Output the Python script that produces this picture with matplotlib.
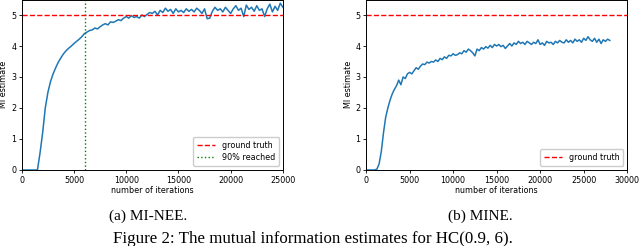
import numpy as np
import matplotlib
matplotlib.use("Agg")
import matplotlib.pyplot as plt

STEP = 250
nee_vals = [0, 0, 0, 0, 0, 0, 0, 0.55, 1.2, 2.0,
            2.5, 2.85, 3.1, 3.3, 3.48, 3.62, 3.75, 3.85, 3.93, 4.0,
            4.08, 4.15, 4.22, 4.3, 4.4, 4.45, 4.5, 4.52, 4.58, 4.55,
            4.62, 4.68, 4.72, 4.68, 4.78, 4.76, 4.8, 4.85, 4.82, 4.9,
            4.95, 4.9, 4.98, 4.92, 4.95, 4.9, 5.0, 4.95, 5.02, 5.08,
            5.05, 5.12, 5.0, 5.15, 5.08, 5.22, 5.12, 5.18, 5.05, 5.2,
            5.1, 5.15, 5.08, 5.2, 5.12, 5.18, 5.1, 5.22, 5.15, 5.05,
            5.2, 4.88, 4.9, 5.12, 5.25, 5.15, 5.2, 5.1, 5.25, 5.15,
            5.05, 5.2, 5.3, 5.15, 5.22, 4.95, 5.32, 5.18, 5.25, 5.12,
            5.3, 5.15, 5.2, 4.95, 5.2, 5.35, 5.1, 5.28, 5.15, 5.38,
            5.25]
mine_vals = [0, 0, 0, 0, 0, 0.03, 0.2, 0.6, 1.2, 1.7,
             2.0, 2.25, 2.45, 2.6, 2.72, 2.9, 2.75, 3.0, 2.95, 3.1,
             3.15, 3.1, 3.2, 3.3, 3.25, 3.35, 3.42, 3.4, 3.48, 3.45,
             3.5, 3.48, 3.55, 3.5, 3.6, 3.56, 3.65, 3.6, 3.7, 3.68,
             3.75, 3.7, 3.72, 3.78, 3.75, 3.85, 3.8, 3.9, 3.85, 3.78,
             3.68, 3.9, 3.85, 3.95, 3.9, 3.98, 3.93, 4.02, 3.95, 4.05,
             4.0, 4.05, 3.98, 4.02, 3.92, 4.0, 4.08, 4.0, 4.1, 4.05,
             4.15, 4.08, 4.12, 4.05, 4.15, 4.1, 4.05, 4.12, 4.08, 4.2,
             4.05, 4.1, 4.02, 4.15, 4.1, 4.12, 4.05, 4.15, 4.1, 4.18,
             4.12, 4.1, 4.2, 4.12, 4.18, 4.1, 4.22, 4.15, 4.2, 4.12,
             4.25, 4.18, 4.3, 4.2, 4.15, 4.25, 4.12, 4.22, 4.08, 4.2,
             4.15, 4.22, 4.18]
ground_truth = 5.0
reached_90 = 6100
captions = ["(a) MI-NEE.", "(b) MINE."]
fig_caption = "Figure 2: The mutual information estimates for HC(0.9, 6)."

fs = 5.8
fig = plt.figure(figsize=(6.4, 2.46), dpi=100)
ax1 = fig.add_axes([0.034, 0.309, 0.408, 0.693])
ax2 = fig.add_axes([0.572, 0.309, 0.408, 0.693])

blue = '#1f77b4'
x1 = np.arange(len(nee_vals)) * STEP
x2 = np.arange(len(mine_vals)) * STEP

ax1.plot(x1, nee_vals, color=blue, lw=1.1)
ax1.axhline(ground_truth, color='red', ls='--', lw=1.0, label='ground truth')
ax1.axvline(reached_90, color='green', ls=':', lw=1.0, label='90% reached')
ax1.set_xlim(0, 25000)
ax1.set_xticks([0, 5000, 10000, 15000, 20000, 25000])

ax2.plot(x2, mine_vals, color=blue, lw=1.1)
ax2.axhline(ground_truth, color='red', ls='--', lw=1.0, label='ground truth')
ax2.set_xlim(0, 30000)
ax2.set_xticks([0, 5000, 10000, 15000, 20000, 25000, 30000])

for ax in (ax1, ax2):
    ax.set_ylim(0, 5.5)
    ax.set_yticks([0, 1, 2, 3, 4, 5])
    ax.tick_params(labelsize=fs, length=2.5, width=0.6, pad=1.5)
    ax.set_xlabel('number of iterations', fontsize=fs, labelpad=1)
    ax.set_ylabel('MI estimate', fontsize=fs, labelpad=2)
    for s in ax.spines.values():
        s.set_linewidth(0.7)
    ax.legend(loc='lower right', fontsize=fs, handlelength=2.2, borderpad=0.5,
              labelspacing=0.4, framealpha=1, fancybox=True)

fig.text(148 / 640, 1 - 216 / 246, captions[0], ha='center', va='center',
         fontsize=11, family='Liberation Serif')
fig.text(480 / 640, 1 - 216 / 246, captions[1], ha='center', va='center',
         fontsize=11, family='Liberation Serif')
fig.text(113 / 640, 1 - 243 / 246, fig_caption, ha='left', va='baseline',
         fontsize=12.2, family='Liberation Serif')

fig.savefig('out.png', dpi=100)
